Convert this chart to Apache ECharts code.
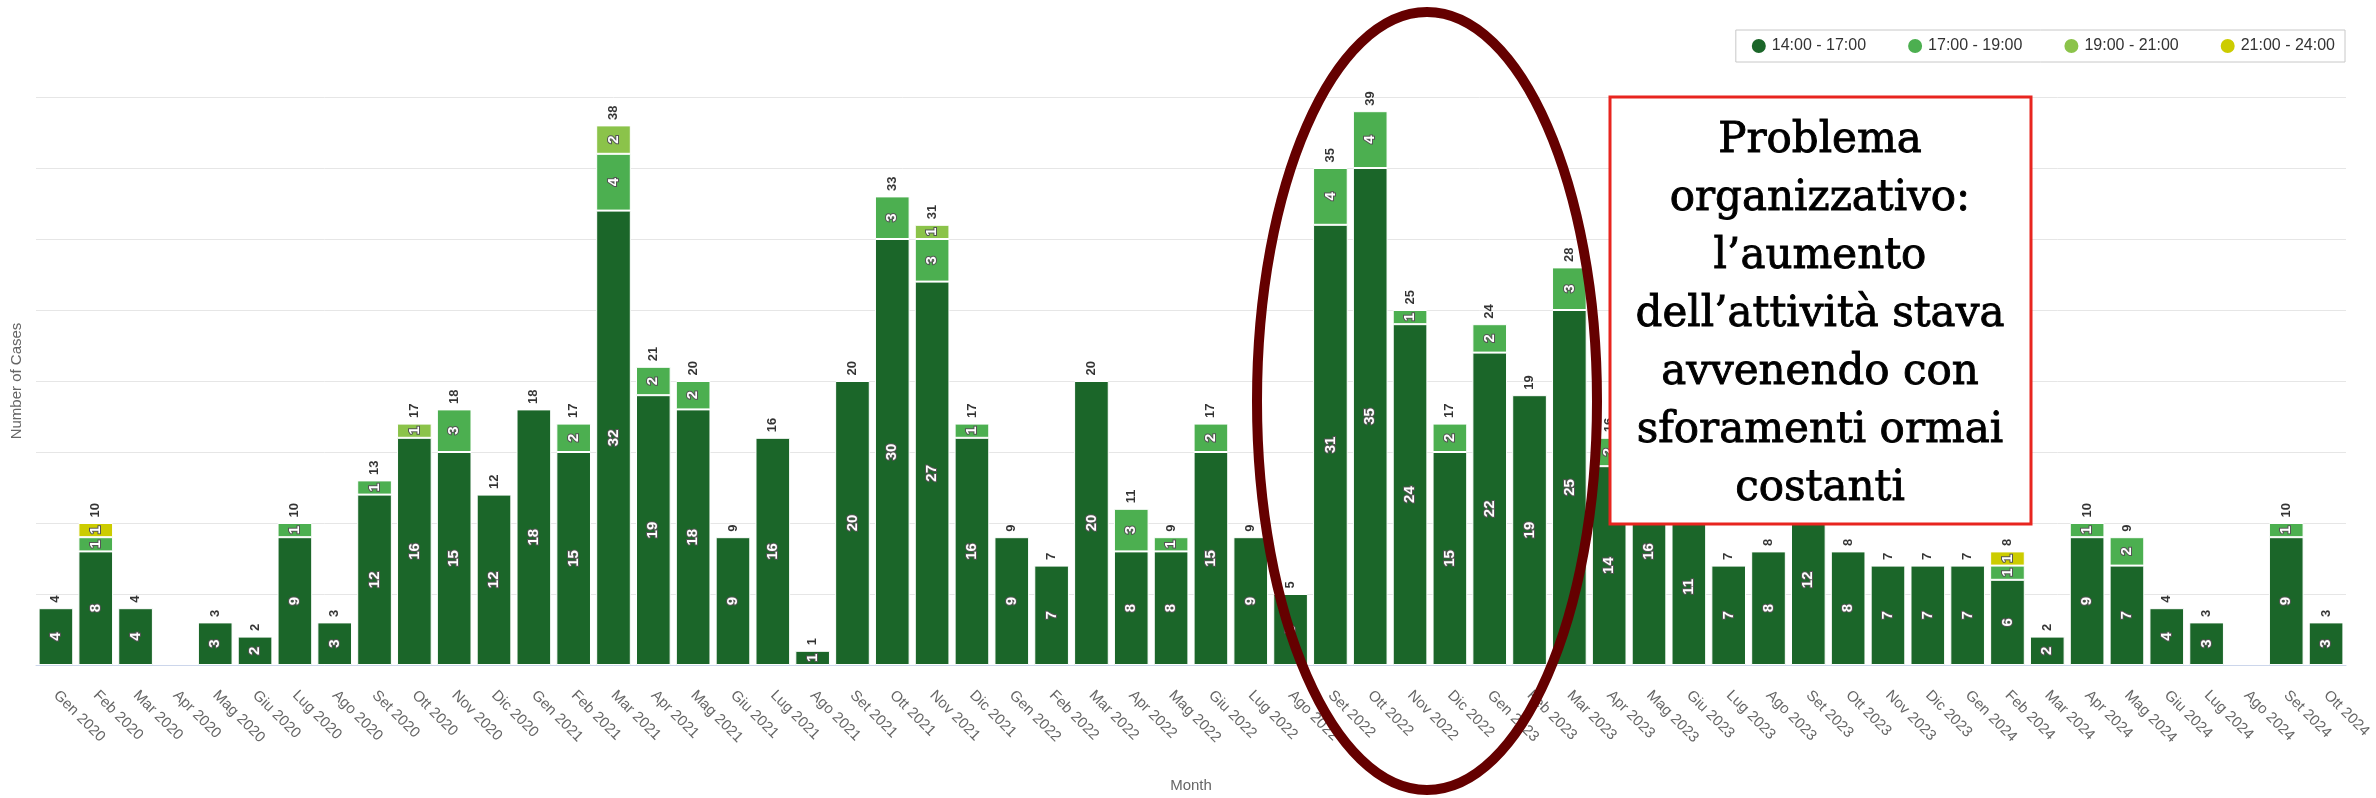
<!DOCTYPE html>
<html>
<head>
<meta charset="utf-8">
<script src="https://cdn.jsdelivr.net/npm/echarts@6/dist/echarts.min.js"></script>
<style>
html,body{margin:0;padding:0;background:#fff;}
#chart{width:2376px;height:798px;}
</style>
</head>
<body>
<div id="chart"></div>
<script>
const months = ["Gen 2020","Feb 2020","Mar 2020","Apr 2020","Mag 2020","Giu 2020","Lug 2020","Ago 2020","Set 2020","Ott 2020","Nov 2020","Dic 2020",
"Gen 2021","Feb 2021","Mar 2021","Apr 2021","Mag 2021","Giu 2021","Lug 2021","Ago 2021","Set 2021","Ott 2021","Nov 2021","Dic 2021",
"Gen 2022","Feb 2022","Mar 2022","Apr 2022","Mag 2022","Giu 2022","Lug 2022","Ago 2022","Set 2022","Ott 2022","Nov 2022","Dic 2022",
"Gen 2023","Feb 2023","Mar 2023","Apr 2023","Mag 2023","Giu 2023","Lug 2023","Ago 2023","Set 2023","Ott 2023","Nov 2023","Dic 2023",
"Gen 2024","Feb 2024","Mar 2024","Apr 2024","Mag 2024","Giu 2024","Lug 2024","Ago 2024","Set 2024","Ott 2024"];

const seriesNames = ["14:00 - 17:00","17:00 - 19:00","19:00 - 21:00","21:00 - 24:00"];

const h14_17 = [4,8,4,0,3,2,9,3,12,16,15,12, 18,15,32,19,18,9,16,1,20,30,27,16, 9,7,20,8,8,15,9,5,31,35,24,15, 22,19,25,14,16,11,7,8,12,8,7,7, 7,6,2,9,7,4,3,0,9,3];
const h17_19 = [0,1,0,0,0,0,1,0,1,0,3,0, 0,2,4,2,2,0,0,0,0,3,3,1, 0,0,0,3,1,2,0,0,4,4,1,2, 2,0,3,2,0,0,0,0,0,0,0,0, 0,1,0,1,2,0,0,0,1,0];
const h19_21 = [0,0,0,0,0,0,0,0,0,1,0,0, 0,0,2,0,0,0,0,0,0,0,1,0, 0,0,0,0,0,0,0,0,0,0,0,0, 0,0,0,0,0,0,0,0,0,0,0,0, 0,0,0,0,0,0,0,0,0,0];
const h21_24 = [0,1,0,0,0,0,0,0,0,0,0,0, 0,0,0,0,0,0,0,0,0,0,0,0, 0,0,0,0,0,0,0,0,0,0,0,0, 0,0,0,0,0,0,0,0,0,0,0,0, 0,1,0,0,0,0,0,0,0,0];

const colors = ["#1b6629","#4caf50","#8bc34a","#cccc00"];
const annotationLines = ["Problema","organizzativo:","l\u2019aumento","dell\u2019attivit\u00e0 stava","avvenendo con","sforamenti ormai","costanti"];

const layers = [h14_17,h17_19,h19_21,h21_24];
const totals = months.map((m,i)=>layers.reduce((s,a)=>s+a[i],0));

const chart = echarts.init(document.getElementById('chart'));
const font = 'Liberation Sans';

const barSeries = layers.map((arr,k)=>({
  name: seriesNames[k],
  type: 'bar',
  stack: 'hours',
  barCategoryGap: '13%',
  data: arr.map(v=> v===0 ? '-' : v),
  itemStyle: {color: colors[k], borderColor:'#fff', borderWidth:1},
  label: {
    show: true, position: 'inside', rotate: 90,
    fontFamily: font, fontSize: 15, fontWeight: 'bold',
    color: '#fff', textBorderColor: '#555', textBorderWidth: 2
  },
  emphasis: {disabled: true}
}));

const totalSeries = {
  name: 'Totale', type: 'scatter', symbolSize: 1,
  data: totals.map(v=> v===0 ? '-' : v),
  itemStyle: {color: 'rgba(0,0,0,0)'},
  label: {
    show: true, position: 'top', distance: 5, rotate: 90,
    align: 'left', verticalAlign: 'middle',
    fontFamily: font, fontSize: 13, fontWeight: 'bold', color: '#000'
  },
  silent: true, z: 3
};

chart.setOption({
  animation: false,
  textStyle: {fontFamily: font},
  grid: {left: 36, right: 30, top: 97, bottom: 130, containLabel: false},
  legend: {
    data: seriesNames, right: 31, top: 30, icon: 'circle',
    itemWidth: 16, itemHeight: 16, itemGap: 40,
    borderColor: '#c8c8c8', borderWidth: 1, padding: [7, 10, 7, 14],
    textStyle: {fontFamily: font, fontSize: 16, color: '#333'}
  },
  xAxis: {
    type: 'category', data: months, boundaryGap: true,
    axisLine: {lineStyle: {color: '#ccd6eb'}},
    axisTick: {length: 12, lineStyle: {color: '#ccd6eb'}},
    axisLabel: {rotate: -45, interval: 0, margin: 28, color: '#666', fontSize: 15, fontFamily: font},
    name: 'Month', nameLocation: 'middle', nameGap: 113,
    nameTextStyle: {color: '#666', fontSize: 15, fontFamily: font}
  },
  yAxis: {
    type: 'value', min: 0, max: 40, interval: 5,
    axisLabel: {show: false}, axisLine: {show: false}, axisTick: {show: false},
    splitLine: {lineStyle: {color: '#e6e6e6', width: 1}},
    name: 'Number of Cases', nameLocation: 'middle', nameGap: 12, nameRotate: 90,
    nameTextStyle: {color: '#666', fontSize: 15, fontFamily: font}
  },
  series: barSeries.concat([totalSeries]),
  graphic: [
    {type: 'ellipse', z: 100, shape: {cx: 1427, cy: 401, rx: 170, ry: 389},
     style: {fill: 'rgba(0,0,0,0)', stroke: '#650000', lineWidth: 10}},
    {type: 'rect', z: 101, shape: {x: 1610, y: 97, width: 421, height: 427},
     style: {fill: '#fff', stroke: '#e8251f', lineWidth: 3}},
    {type: 'text', z: 102, x: 1820, y: 315,
     style: {text: annotationLines.join('\n'), font: '42px "DejaVu Serif"', fill: '#000',
             stroke: '#000', lineWidth: 0.9,
             align: 'center', verticalAlign: 'middle', lineHeight: 58}}
  ]
});
</script>
</body>
</html>
